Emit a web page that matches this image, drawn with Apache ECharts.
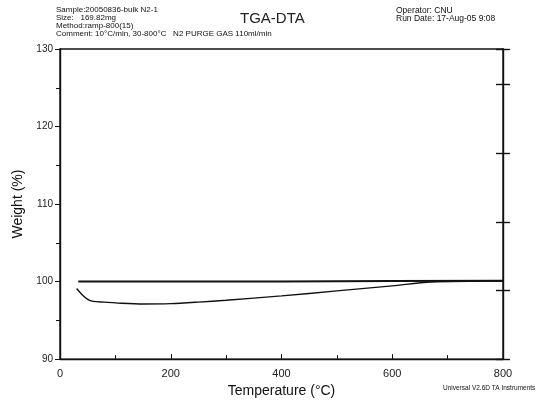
<!DOCTYPE html>
<html>
<head>
<meta charset="utf-8">
<title>TGA-DTA</title>
<script src="https://cdn.jsdelivr.net/npm/echarts@6/dist/echarts.min.js"></script>
</head>
<body style="margin:0">
<div id="main" style="width:539px;height:403px;"></div>
<script type="text/javascript">
// sample info shown above the plot
var headerLeft = [
  'Sample:20050836-bulk N2-1',
  'Size:   169.82mg',
  'Method:ramp-800(15)',
  'Comment: 10\u00b0C/min, 30-800\u00b0C   N2 PURGE GAS 110ml/min'
];
var headerRight = ['Operator: CNU', 'Run Date: 17-Aug-05 9:08'];

// x ticks / y ticks
var xTicks = [0, 200, 400, 600, 800];
var yTicks = [90, 100, 110, 120, 130];

// reference line (upper) and weight curve (lower), [temperature, weight %]
var baseline = [[33, 100.0], [200, 100.0], [400, 100.02], [600, 100.06], [800, 100.1]];
var weight = [
  [30, 99.1], [40, 98.3], [50, 97.7], [60, 97.45], [80, 97.35], [100, 97.25],
  [150, 97.1], [200, 97.15], [250, 97.35], [300, 97.6], [400, 98.15],
  [500, 98.8], [600, 99.45], [670, 99.95], [800, 100.08]
];

var chart = echarts.init(document.getElementById('main'));
var font = 'Liberation Sans, Arial, sans-serif';

var gfx = [];
headerLeft.forEach(function (t, i) {
  gfx.push({ type: 'text', left: 56, top: 6 + i * 8,
    style: { text: t, font: '8px ' + font, fill: '#111' } });
});
headerRight.forEach(function (t, i) {
  gfx.push({ type: 'text', left: 396, top: 6 + i * 8,
    style: { text: t, font: '8.5px ' + font, fill: '#111' } });
});
gfx.push({ type: 'text', left: 443, top: 385,
  style: { text: 'Universal V2.6D TA Instruments', font: '6.5px ' + font, fill: '#111' } });

chart.setOption({
  animation: false,
  textStyle: { fontFamily: font },
  title: {
    text: 'TGA-DTA', left: 235, top: 6,
    textStyle: { fontSize: 15, fontWeight: 'normal', color: '#222' }
  },
  graphic: gfx,
  grid: { left: 60, right: 36, top: 49, bottom: 42, show: true, borderColor: '#111', borderWidth: 1.4 },
  xAxis: {
    type: 'value', min: xTicks[0], max: xTicks[xTicks.length - 1], interval: 200,
    name: 'Temperature (\u00b0C)', nameLocation: 'middle', nameGap: 23,
    nameTextStyle: { fontSize: 14, color: '#111' },
    axisLine: { lineStyle: { color: '#111', width: 1.4 } },
    axisTick: { inside: true, length: 5, lineStyle: { color: '#111' } },
    minorTick: { show: true, splitNumber: 2, length: 4, lineStyle: { color: '#111' } },
    axisLabel: { fontSize: 11, color: '#222', margin: 9 },
    splitLine: { show: false }
  },
  yAxis: [{
    type: 'value', min: yTicks[0], max: yTicks[yTicks.length - 1], interval: 10,
    name: 'Weight (%)', nameLocation: 'middle', nameGap: 33,
    nameTextStyle: { fontSize: 14, color: '#111' },
    axisLine: { lineStyle: { color: '#111', width: 1.4 } },
    axisTick: { length: 5, lineStyle: { color: '#111' } },
    minorTick: { show: true, splitNumber: 2, length: 4, lineStyle: { color: '#111' } },
    axisLabel: { fontSize: 10, color: '#222', margin: 7 },
    splitLine: { show: false }
  }, {
    type: 'value', position: 'right', min: 0, max: 4.52, interval: 1,
    axisLine: { show: true, lineStyle: { color: '#111', width: 1.4 } },
    axisTick: { show: true, inside: true, length: 7, lineStyle: { color: '#111', width: 1.4 } },
    axisLabel: { show: false }, splitLine: { show: false }
  }, {
    type: 'value', position: 'right', min: 0, max: 4.52, interval: 1,
    axisLine: { show: false },
    axisTick: { show: true, length: 7, lineStyle: { color: '#111', width: 1.4 } },
    axisLabel: { show: false }, splitLine: { show: false }
  }],
  series: [{
    type: 'line', data: baseline, showSymbol: false,
    lineStyle: { color: '#111', width: 2 }
  }, {
    type: 'line', data: weight, showSymbol: false, smooth: 0.3,
    lineStyle: { color: '#111', width: 1.4 }
  }]
});
</script>
</body>
</html>
